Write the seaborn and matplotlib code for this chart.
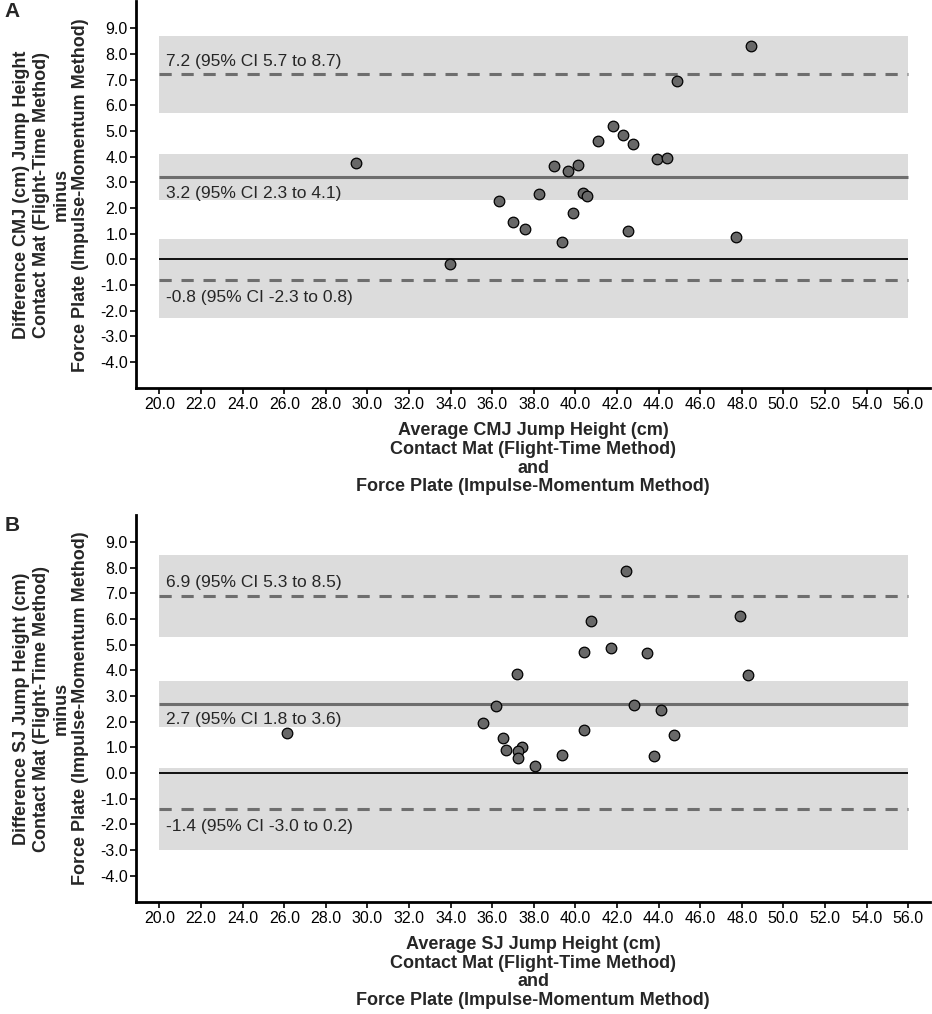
import numpy as np
import pandas as pd
import matplotlib
matplotlib.use("Agg")
import matplotlib.pyplot as plt
import seaborn as sns
from matplotlib.ticker import FormatStrFormatter

# --------------------------------------------------------------
# Data
# --------------------------------------------------------------

# Panel A : CMJ
cmj_avg = [48.44, 44.88, 41.80, 42.31, 42.75, 41.08, 43.94, 44.40, 29.47, 38.99, 39.62, 40.13,
           38.24, 40.35, 40.54, 36.33, 39.87, 37.01, 37.56, 42.53, 47.74, 39.36, 33.98]
cmj_diff = [8.29, 6.95, 5.21, 4.83, 4.50, 4.59, 3.91, 3.96, 3.76, 3.62, 3.45, 3.66,
            2.55, 2.57, 2.48, 2.28, 1.81, 1.45, 1.16, 1.10, 0.88, 0.67, -0.18]
cmj_bias = [3.2, 2.3, 4.1]      # value, CI low, CI high
cmj_upper = [7.2, 5.7, 8.7]
cmj_lower = [-0.8, -2.3, 0.8]

# Panel B : SJ
sj_avg = [42.41, 40.74, 47.93, 40.42, 41.71, 43.43, 37.20, 48.32, 36.18, 42.82, 44.10, 35.55,
          26.15, 40.40, 44.73, 36.50, 36.66, 37.41, 37.22, 37.23, 39.36, 38.07, 43.79]
sj_diff = [7.87, 5.92, 6.12, 4.72, 4.85, 4.67, 3.86, 3.83, 2.61, 2.66, 2.44, 1.95,
           1.57, 1.66, 1.48, 1.38, 0.89, 1.02, 0.86, 0.59, 0.72, 0.28, 0.66]
sj_bias = [2.7, 1.8, 3.6]
sj_upper = [6.9, 5.3, 8.5]
sj_lower = [-1.4, -3.0, 0.2]

x_ticks = np.arange(20, 57, 2)
y_ticks = np.arange(-4, 10, 1)
x_span = [20, 56]

cmj_xlabel = ("Average CMJ Jump Height (cm)\nContact Mat (Flight-Time Method)\nand\n"
              "Force Plate (Impulse-Momentum Method)")
cmj_ylabel = ("Difference CMJ (cm) Jump Height\nContact Mat (Flight-Time Method)\nminus\n"
              "Force Plate (Impulse-Momentum Method)")
sj_xlabel = ("Average SJ Jump Height (cm)\nContact Mat (Flight-Time Method)\nand\n"
             "Force Plate (Impulse-Momentum Method)")
sj_ylabel = ("Difference SJ Jump Height (cm)\nContact Mat (Flight-Time Method)\nminus\n"
             "Force Plate (Impulse-Momentum Method)")

sns.set_style("ticks")
plt.rcParams['font.family'] = ['Liberation Sans', 'DejaVu Sans']

BAND = '#dcdcdc'
LINE = '#6e6e6e'
POINT = '#686868'

fig = plt.figure(figsize=(9.32, 10.14), dpi=100)


def bland_altman(ax, avg, diff, bias, upper, lower, xlabel, ylabel, letter):
    df = pd.DataFrame({"avg": avg, "diff": diff})

    # CI bands
    for vals in (upper, bias, lower):
        ax.fill_between(x_span, vals[1], vals[2], color=BAND, lw=0, zorder=1)

    ax.hlines(0, *x_span, color='black', lw=1.3, zorder=2)
    ax.hlines(bias[0], *x_span, color=LINE, lw=2.2, zorder=2)
    for vals in (upper, lower):
        ax.hlines(vals[0], *x_span, color=LINE, lw=2.2, linestyles=(0, (4, 3.2)), zorder=2)

    # text labels of the lines
    fmt = "{:.1f} (95% CI {:.1f} to {:.1f})"
    ax.text(20.3, upper[0] + 0.5, fmt.format(*upper), fontsize=12.5, va='center', zorder=3)
    ax.text(20.3, bias[0] - 0.62, fmt.format(*bias), fontsize=12.5, va='center', zorder=3)
    ax.text(20.3, lower[0] - 0.68, fmt.format(*lower), fontsize=12.5, va='center', zorder=3)

    sns.scatterplot(data=df, x="avg", y="diff", ax=ax, s=58, color=POINT,
                    edgecolor='black', linewidth=0.9, zorder=5)

    ax.set_xlim(18.87, 57.05)
    ax.set_ylim(-5.03, 10.05)
    ax.set_xticks(x_ticks)
    ax.set_yticks(y_ticks)
    ax.xaxis.set_major_formatter(FormatStrFormatter('%.1f'))
    ax.yaxis.set_major_formatter(FormatStrFormatter('%.1f'))
    ax.tick_params(axis='both', labelsize=11.5, length=4, width=1.2, color='black',
                   labelcolor='black', pad=2)

    sns.despine(ax=ax)
    for s in ('left', 'bottom'):
        ax.spines[s].set_linewidth(2)
        ax.spines[s].set_color('black')

    ax.set_xlabel(xlabel, fontsize=13, fontweight='bold', linespacing=1.15)
    ax.set_ylabel(ylabel, fontsize=13, fontweight='bold', linespacing=1.2)
    ax.xaxis.set_label_coords(0.5, -0.086)
    ax.yaxis.set_label_coords(-0.059, 0.5)
    ax.xaxis.label.set_va('top')

    ax.text(-0.165, 0.997, letter, transform=ax.transAxes, fontsize=15, fontweight='bold',
            va='top', ha='left')


ax1 = fig.add_axes([0.1459, 0.617, 0.852, 0.3817])
bland_altman(ax1, cmj_avg, cmj_diff, cmj_bias, cmj_upper, cmj_lower, cmj_xlabel, cmj_ylabel, "A")

ax2 = fig.add_axes([0.1459, 0.1102, 0.852, 0.382])
bland_altman(ax2, sj_avg, sj_diff, sj_bias, sj_upper, sj_lower, sj_xlabel, sj_ylabel, "B")

plt.savefig("out.png", dpi=100)
